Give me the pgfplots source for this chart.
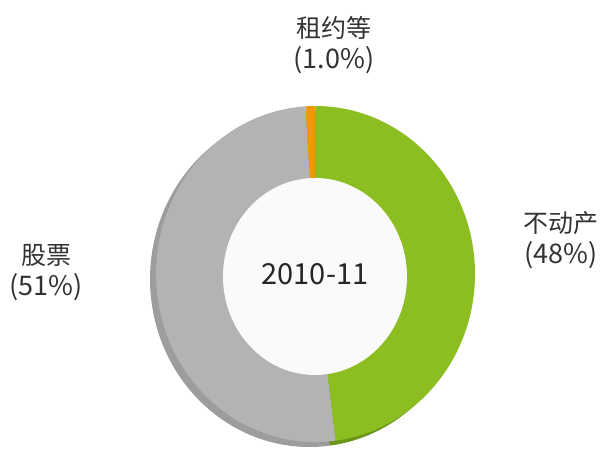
\documentclass[border=0pt]{standalone}
\usepackage{pgfplots}
\pgfplotsset{compat=1.18}
\usepackage{pgfplotstable}
\usepackage{fontspec}
\setmainfont{Noto Sans CJK SC}

\definecolor{txt}{HTML}{333333}
\definecolor{rentor}{HTML}{F39800}
\definecolor{rentordk}{HTML}{C67C00}
\definecolor{estgreen}{HTML}{8CBE22}
\definecolor{estgreendk}{HTML}{6C961A}
\definecolor{stkgray}{HTML}{B3B3B3}
\definecolor{stkgraydk}{HTML}{9D9D9D}
\definecolor{hole}{HTML}{FAFAFA}

% share of total, percent: rent etc., real estate, stocks
\pgfplotstableread{
share
1.0
48
51
}\shares
\pgfplotstablegetelem{0}{share}\of\shares \let\sRent\pgfplotsretval
\pgfplotstablegetelem{1}{share}\of\shares \let\sEst\pgfplotsretval
\pgfplotstablegetelem{2}{share}\of\shares \let\sStk\pgfplotsretval
\pgfmathsetmacro\aRent{90+3.6*\sRent}
\pgfmathsetmacro\aEst{90-3.6*\sEst}
\pgfmathsetmacro\aStk{\aEst-3.6*\sStk}

% wedge: centre x, centre y, start angle, end angle, colour
\newcommand\wedgefill[5]{%
  \fill[#5] (axis cs:#1,#2) -- ++(#3:159.5pt and 168pt)
    arc[start angle=#3, end angle=#4, x radius=159.5pt, y radius=168pt] -- cycle;}
\newcommand\lbl[2]{#1\\\fontsize{27}{31}\selectfont #2}

\begin{document}
\begin{tikzpicture}
\begin{axis}[
    hide axis, clip=false,
    x=1pt, y=1pt,
    xmin=0, xmax=603, ymin=0, ymax=449,
]
\coordinate (ll) at (axis cs:0,0);
\coordinate (ur) at (axis cs:603,449);
% shadow
\wedgefill{309.5}{170}{\aRent}{90}{rentordk}
\wedgefill{309.5}{170}{90}{\aEst}{estgreendk}
\wedgefill{309.5}{170}{\aEst}{\aStk}{stkgraydk}
% face
\wedgefill{315.5}{175}{\aRent}{90}{rentor}
\wedgefill{315.5}{175}{90}{\aEst}{estgreen}
\wedgefill{315.5}{175}{\aEst}{\aStk}{stkgray}
% hole
\fill[hole] (axis cs:315,172.5) ellipse[x radius=92pt, y radius=98.5pt];
\node[font=\fontsize{29}{32}\selectfont, text=black!85] at (axis cs:315,175) {2010-11};

\begin{scope}[every node/.style={text=txt, align=center, font=\fontsize{25}{31}\selectfont}]
\node at (axis cs:334,403.5) {\lbl{租约等}{(1.0\%)}};
\node at (axis cs:46,176.5) {\lbl{股票}{(51\%)}};
\node at (axis cs:561,208.5) {\lbl{不动产}{(48\%)}};
\end{scope}
\end{axis}
\pgfresetboundingbox
\path[use as bounding box] (ll) rectangle (ur);
\end{tikzpicture}
\end{document}
